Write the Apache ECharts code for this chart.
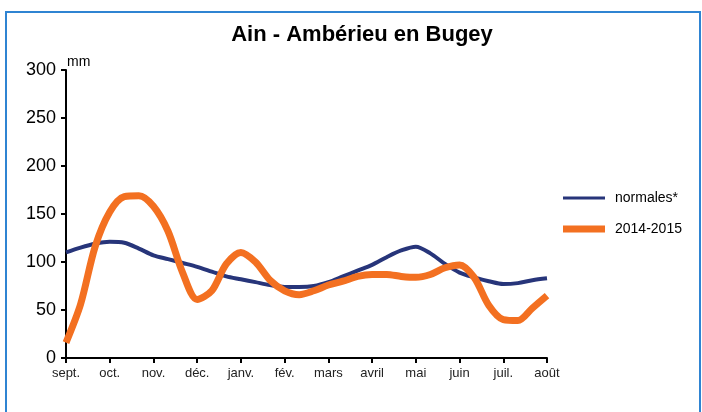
<!DOCTYPE html>
<html><head><meta charset="utf-8">
<script src="https://cdn.jsdelivr.net/npm/echarts@6/dist/echarts.min.js"></script>
<style>html,body{margin:0;padding:0;background:#fff}#c{width:702px;height:412px}</style>
</head><body><div id="c"></div>
<script>
// Month tick labels (3 points per month: decades)
const months = ['sept.','oct.','nov.','déc.','janv.','fév.','mars','avril','mai','juin','juil.','août'];
const yTicks = [0,50,100,150,200,250,300];
// categories: each month split in 3 decades, last point = août
const categories = [];
months.forEach((m, i) => {
  if (i < months.length - 1) { categories.push(m, m + '-2', m + '-3'); }
  else { categories.push(m); }
});
const normales = [110,115,119,121,120,114,107,103,99,95,90,85,82,79,76,74,74,75,79,85,91,97,105,112,116,109,98,89,84,80,77,78,81,83];
const annee = [16,56,116,152,168,169,158,132,89,61,70,98,110,100,81,70,66,70,76,80,85,87,87,85,84,87,94,97,84,55,40,39,52,65];

const chart = echarts.init(document.getElementById('c'));
chart.setOption({
  animation: false,
  title: {
    text: 'Ain - Ambérieu en Bugey', left: 357, top: 19, textAlign: 'center',
    textStyle: { fontFamily: 'Liberation Sans, Arial, sans-serif', fontWeight: 'bold', fontSize: 22, color: '#000' }
  },
  graphic: [{
    type: 'rect', shape: { x: 6, y: 12, width: 694, height: 420 },
    style: { fill: 'none', stroke: '#2f84d2', lineWidth: 2 }, silent: true
  }],
  legend: {
    orient: 'vertical', left: 563, top: 191, padding: 0, itemWidth: 42, itemHeight: 14, itemGap: 17,
    symbolKeepAspect: true,
    textStyle: { fontFamily: 'Liberation Sans, Arial, sans-serif', fontSize: 14, color: '#000', padding: [0,0,0,5] },
    data: [
      { name: 'normales*', icon: 'path://M0 0H42V3H0Z' },
      { name: '2014-2015', icon: 'path://M0 0H42V7H0Z' }
    ]
  },
  grid: { left: 66, right: 155, top: 70, bottom: 54, containLabel: false },
  xAxis: {
    type: 'category', data: categories, boundaryGap: false,
    axisLine: { lineStyle: { color: '#000', width: 2 } },
    axisTick: { interval: 2, length: 5, lineStyle: { color: '#000', width: 2 } },
    axisLabel: {
      interval: 2, margin: 9, color: '#222', fontSize: 13,
      fontFamily: 'Liberation Sans, Arial, sans-serif',
      formatter: v => v.split('-')[0]
    },
    splitLine: { show: false }
  },
  yAxis: {
    type: 'value', min: yTicks[0], max: yTicks[yTicks.length - 1], interval: 50,
    name: 'mm', nameLocation: 'end', nameGap: 1,
    nameTextStyle: { fontFamily: 'Liberation Sans, Arial, sans-serif', fontSize: 14, color: '#000', align: 'left', padding: [0,0,0,1] },
    axisLine: { show: true, lineStyle: { color: '#000', width: 2 } },
    axisTick: { show: true, length: 5, lineStyle: { color: '#000', width: 2 } },
    axisLabel: { margin: 10, color: '#000', fontSize: 18, fontFamily: 'Liberation Sans, Arial, sans-serif' },
    splitLine: { show: false }
  },
  series: [
    { name: 'normales*', type: 'line', data: normales, smooth: 0.3, symbol: 'none', showSymbol: false,
      lineStyle: { color: '#27357a', width: 4 }, itemStyle: { color: '#27357a' }, z: 2 },
    { name: '2014-2015', type: 'line', data: annee, smooth: 0.3, symbol: 'none', showSymbol: false,
      lineStyle: { color: '#f37021', width: 7 }, itemStyle: { color: '#f37021' }, z: 3 }
  ]
});
</script></body></html>
